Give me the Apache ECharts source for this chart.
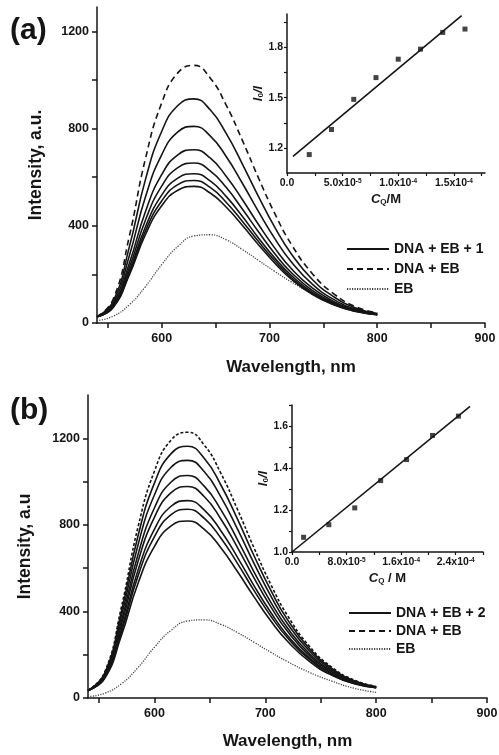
<!DOCTYPE html>
<html>
<head>
<meta charset="utf-8">
<script src="https://cdn.jsdelivr.net/npm/echarts@6/dist/echarts.min.js"></script>
<style>
  html, body { margin: 0; padding: 0; background: #fff; }
  #chart { width: 499px; height: 755px; }
</style>
</head>
<body>
<div id="chart"></div>
<script>
// wavelengths (nm) the spectra were read at
var wavelength = [540, 555, 570, 585, 600, 615, 630, 645, 660, 675, 690, 705, 720, 740, 760, 780, 800];

// panel (a) spectra
var ebA = [10, 28, 75, 150, 240, 315, 358, 363, 342, 302, 257, 212, 170, 120, 80, 50, 33];
var dnaEbA = [26, 98, 357, 677, 905, 1029, 1060, 1008, 895, 750, 595, 450, 326, 202, 119, 67, 42];
var plus1A = [
  [26, 89, 313, 591, 788, 895, 922, 877, 779, 653, 519, 393, 286, 178, 107, 62, 39],
  [26, 81, 277, 519, 692, 786, 809, 770, 684, 574, 457, 347, 253, 159, 96, 57, 38],
  [26, 74, 246, 459, 610, 692, 713, 679, 603, 507, 404, 308, 225, 143, 88, 53, 36],
  [26, 70, 228, 424, 563, 639, 658, 626, 557, 468, 374, 285, 209, 133, 83, 51, 35],
  [26, 67, 214, 396, 526, 596, 614, 585, 520, 438, 349, 267, 197, 126, 79, 50, 35],
  [26, 65, 205, 379, 502, 569, 586, 558, 496, 418, 334, 256, 188, 121, 76, 48, 34],
  [26, 64, 198, 364, 482, 546, 562, 535, 476, 401, 321, 246, 181, 117, 74, 47, 34]
];

// panel (b) spectra
var ebB = [6, 22, 65, 140, 235, 313, 356, 361, 340, 302, 257, 211, 168, 118, 78, 45, 26];
var dnaEbB = [35, 119, 417, 787, 1049, 1192, 1228, 1168, 1037, 870, 691, 524, 381, 238, 142, 83, 53];
var plus2B = [
  [35, 114, 396, 746, 994, 1129, 1163, 1107, 983, 825, 655, 497, 362, 227, 137, 80, 52],
  [35, 109, 375, 705, 939, 1066, 1098, 1045, 928, 779, 620, 471, 343, 216, 131, 78, 51],
  [35, 105, 353, 661, 879, 998, 1028, 978, 869, 730, 581, 442, 323, 204, 124, 75, 50],
  [35, 101, 336, 628, 836, 949, 977, 930, 826, 694, 553, 421, 308, 195, 120, 73, 49],
  [35, 96, 316, 588, 780, 886, 912, 868, 772, 649, 517, 395, 289, 184, 114, 70, 48],
  [35, 94, 303, 562, 746, 847, 872, 830, 738, 621, 495, 378, 278, 177, 110, 68, 48],
  [35, 90, 286, 528, 701, 795, 818, 779, 693, 583, 466, 356, 262, 168, 105, 66, 47]
];

// insets: Stern-Volmer points and fitted line
var concA = [2e-5, 4e-5, 6e-5, 8e-5, 1e-4, 1.2e-4, 1.4e-4, 1.6e-4];
var ratioA = [1.16, 1.31, 1.49, 1.62, 1.73, 1.79, 1.89, 1.91];
var fitXA = [5.4e-6, 1.57e-4];
var fitYA = [1.149, 1.99];

var concB = [1.7e-5, 5.4e-5, 9.2e-5, 1.3e-4, 1.68e-4, 2.06e-4, 2.44e-4];
var ratioB = [1.07, 1.13, 1.21, 1.34, 1.44, 1.555, 1.647];
var fitXB = [0, 2.61e-4];
var fitYB = [1.0, 1.694];

// ticks / labels
var ticksX = [550, 600, 650, 700, 750, 800, 850, 900];
var labelsX = [600, 700, 800, 900];
var ticksYA = [0, 200, 400, 600, 800, 1000, 1200];
var ticksYB = [0, 200, 400, 600, 800, 1000, 1200];
var labelsY = [0, 400, 800, 1200];
var insetTicksXA = [0, 2.5e-5, 5e-5, 7.5e-5, 1e-4, 1.25e-4, 1.5e-4, 1.75e-4];
var insetLabelsXA = [0, 5e-5, 1e-4, 1.5e-4];
var insetTicksYA = [1.2, 1.35, 1.5, 1.65, 1.8, 1.95];
var insetLabelsYA = [1.2, 1.5, 1.8];
var insetTicksXB = [0, 4e-5, 8e-5, 1.2e-4, 1.6e-4, 2e-4, 2.4e-4, 2.8e-4];
var insetLabelsXB = [0, 8e-5, 1.6e-4, 2.4e-4];
var insetTicksYB = [1.0, 1.1, 1.2, 1.3, 1.4, 1.5, 1.6, 1.7];
var insetLabelsYB = [1.0, 1.2, 1.4, 1.6];

var FONT = 'Liberation Sans, Arial, sans-serif';
var INK = '#151515';

function pairs(ys) {
  return ys.map(function (y, i) { return [wavelength[i], y]; });
}
function zip(xs, ys) {
  return xs.map(function (x, i) { return [x, ys[i]]; });
}
// 5.0x10^-5 style labels
function sci(v) {
  if (v === 0) return '{m|0.0}';
  var p = v.toExponential(1).split('e');
  return '{m|' + p[0] + 'x10}{e|' + p[1] + '}';
}
function plain(v) { return String(v); }

var lineAxis = { show: true, onZero: false, lineStyle: { color: INK, width: 1.5 } };
var tickStyle = { color: INK, width: 1.5 };

function mainX(gi, name, gap) {
  return {
    gridIndex: gi, type: 'value', min: 540, max: 900,
    axisLine: lineAxis,
    axisTick: { show: true, length: 5, lineStyle: tickStyle, customValues: ticksX },
    axisLabel: { customValues: labelsX, formatter: plain, margin: 9, fontSize: 12.5, fontWeight: 'bold', color: INK, fontFamily: FONT },
    splitLine: { show: false },
    name: name, nameLocation: 'middle', nameGap: gap,
    nameTextStyle: { fontSize: 17, fontWeight: 'bold', color: INK, fontFamily: FONT }
  };
}
function mainY(gi, max, ticks, name, gap) {
  return {
    gridIndex: gi, type: 'value', min: 0, max: max,
    axisLine: lineAxis,
    axisTick: { show: true, length: 5, lineStyle: tickStyle, customValues: ticks },
    axisLabel: { customValues: labelsY, formatter: plain, margin: 8, fontSize: 12.5, fontWeight: 'bold', color: INK, fontFamily: FONT },
    splitLine: { show: false },
    name: name, nameLocation: 'middle', nameRotate: 90, nameGap: gap,
    nameTextStyle: { fontSize: 17.5, fontWeight: 'bold', color: INK, fontFamily: FONT }
  };
}
var supRich = {
  m: { fontSize: 10.5, fontWeight: 'bold', color: INK, fontFamily: FONT },
  e: { fontSize: 6.5, fontWeight: 'bold', color: INK, fontFamily: FONT, verticalAlign: 'top' }
};
var nameRich = {
  i: { fontSize: 13, fontWeight: 'bold', fontStyle: 'italic', color: INK, fontFamily: FONT },
  s: { fontSize: 8, fontWeight: 'bold', color: INK, fontFamily: FONT, verticalAlign: 'bottom' },
  n: { fontSize: 13, fontWeight: 'bold', color: INK, fontFamily: FONT }
};
function insetX(gi, min, max, ticks, labels, name) {
  return {
    gridIndex: gi, type: 'value', min: min, max: max,
    axisLine: lineAxis,
    axisTick: { show: true, length: 3, lineStyle: { color: INK, width: 1.2 }, customValues: ticks },
    axisLabel: { customValues: labels, margin: 5, formatter: sci, rich: supRich },
    splitLine: { show: false },
    name: name, nameLocation: 'middle', nameGap: 20, nameTextStyle: { rich: nameRich }
  };
}
function insetY(gi, min, max, ticks, labels) {
  return {
    gridIndex: gi, type: 'value', min: min, max: max,
    axisLine: lineAxis,
    axisTick: { show: true, length: 3, lineStyle: { color: INK, width: 1.2 }, customValues: ticks },
    axisLabel: {
      customValues: labels, margin: 4, fontSize: 10.5, fontWeight: 'bold', color: INK, fontFamily: FONT,
      formatter: function (v) { return v.toFixed(1); }
    },
    splitLine: { show: false },
    name: '{i|I}{s|0}{i|/I}', nameLocation: 'middle', nameRotate: 90, nameGap: 20,
    nameTextStyle: { rich: nameRich }
  };
}

var series = [];
function spectra(xi, eb, dnaEb, quench, qName, dash) {
  series.push({
    name: 'EB', type: 'line', xAxisIndex: xi, yAxisIndex: xi, data: pairs(eb),
    smooth: 0.5, symbol: 'none', itemStyle: { color: '#444' },
    lineStyle: { color: '#444', width: 1.3, type: [1.2, 1.3] }
  });
  series.push({
    name: 'DNA + EB', type: 'line', xAxisIndex: xi, yAxisIndex: xi, data: pairs(dnaEb),
    smooth: 0.5, symbol: 'none', itemStyle: { color: INK },
    lineStyle: { color: INK, width: 1.6, type: dash }
  });
  quench.forEach(function (ys) {
    series.push({
      name: qName, type: 'line', xAxisIndex: xi, yAxisIndex: xi, data: pairs(ys),
      smooth: 0.5, symbol: 'none', itemStyle: { color: INK },
      lineStyle: { color: INK, width: 1.6 }
    });
  });
}
spectra(0, ebA, dnaEbA, plus1A, 'DNA + EB + 1', [6, 4]);
spectra(1, ebB, dnaEbB, plus2B, 'DNA + EB + 2', [3, 2]);

function inset(xi, cx, cy, fx, fy) {
  series.push({
    type: 'line', xAxisIndex: xi, yAxisIndex: xi, data: zip(fx, fy),
    symbol: 'none', lineStyle: { color: INK, width: 1.6 }
  });
  series.push({
    type: 'scatter', xAxisIndex: xi, yAxisIndex: xi, data: zip(cx, cy),
    symbol: 'rect', symbolSize: 5, itemStyle: { color: INK }
  });
}
inset(2, concA, ratioA, fitXA, fitYA);
inset(3, concB, ratioB, fitXB, fitYB);

var legendText = { fontSize: 14, fontWeight: 'bold', color: INK, fontFamily: FONT };

var chart = echarts.init(document.getElementById('chart'));
chart.setOption({
  backgroundColor: '#fff',
  animation: false,
  title: [
    { text: '(a)', left: 10, top: 16, padding: 0, textStyle: { fontSize: 30, fontWeight: 'bold', color: INK, fontFamily: FONT } },
    { text: '(b)', left: 10, top: 396, padding: 0, textStyle: { fontSize: 30, fontWeight: 'bold', color: INK, fontFamily: FONT } }
  ],
  legend: [
    { data: ['DNA + EB + 1', 'DNA + EB', 'EB'], orient: 'vertical', left: 346, top: 242,
      itemWidth: 42, itemHeight: 12, itemGap: 6, padding: 0, selectedMode: false,
      itemStyle: { opacity: 0 }, textStyle: legendText },
    { data: ['DNA + EB + 2', 'DNA + EB', 'EB'], orient: 'vertical', left: 348, top: 606,
      itemWidth: 42, itemHeight: 12, itemGap: 4, padding: 0, selectedMode: false,
      itemStyle: { opacity: 0 }, textStyle: legendText }
  ],
  grid: [
    { left: 97, top: 7, width: 388, height: 316, outerBoundsMode: 'none' },
    { left: 88, top: 395, width: 399, height: 303, outerBoundsMode: 'none' },
    { left: 287, top: 14, width: 198, height: 159, outerBoundsMode: 'none' },
    { left: 292, top: 405, width: 191, height: 147, outerBoundsMode: 'none' }
  ],
  xAxis: [
    mainX(0, 'Wavelength, nm', 36),
    mainX(1, 'Wavelength, nm', 35),
    insetX(2, 0, 1.78e-4, insetTicksXA, insetLabelsXA, '{i|C}{s|Q}{n|/M}'),
    insetX(3, 0, 2.8e-4, insetTicksXB, insetLabelsXB, '{i|C}{s|Q}{n| / M}')
  ],
  yAxis: [
    mainY(0, 1300, ticksYA, 'Intensity, a.u.', 52),
    mainY(1, 1400, ticksYB, 'Intensity, a.u', 54),
    insetY(2, 1.05, 2.0, insetTicksYA, insetLabelsYA),
    insetY(3, 1.0, 1.7, insetTicksYB, insetLabelsYB)
  ],
  series: series
});
</script>
</body>
</html>
